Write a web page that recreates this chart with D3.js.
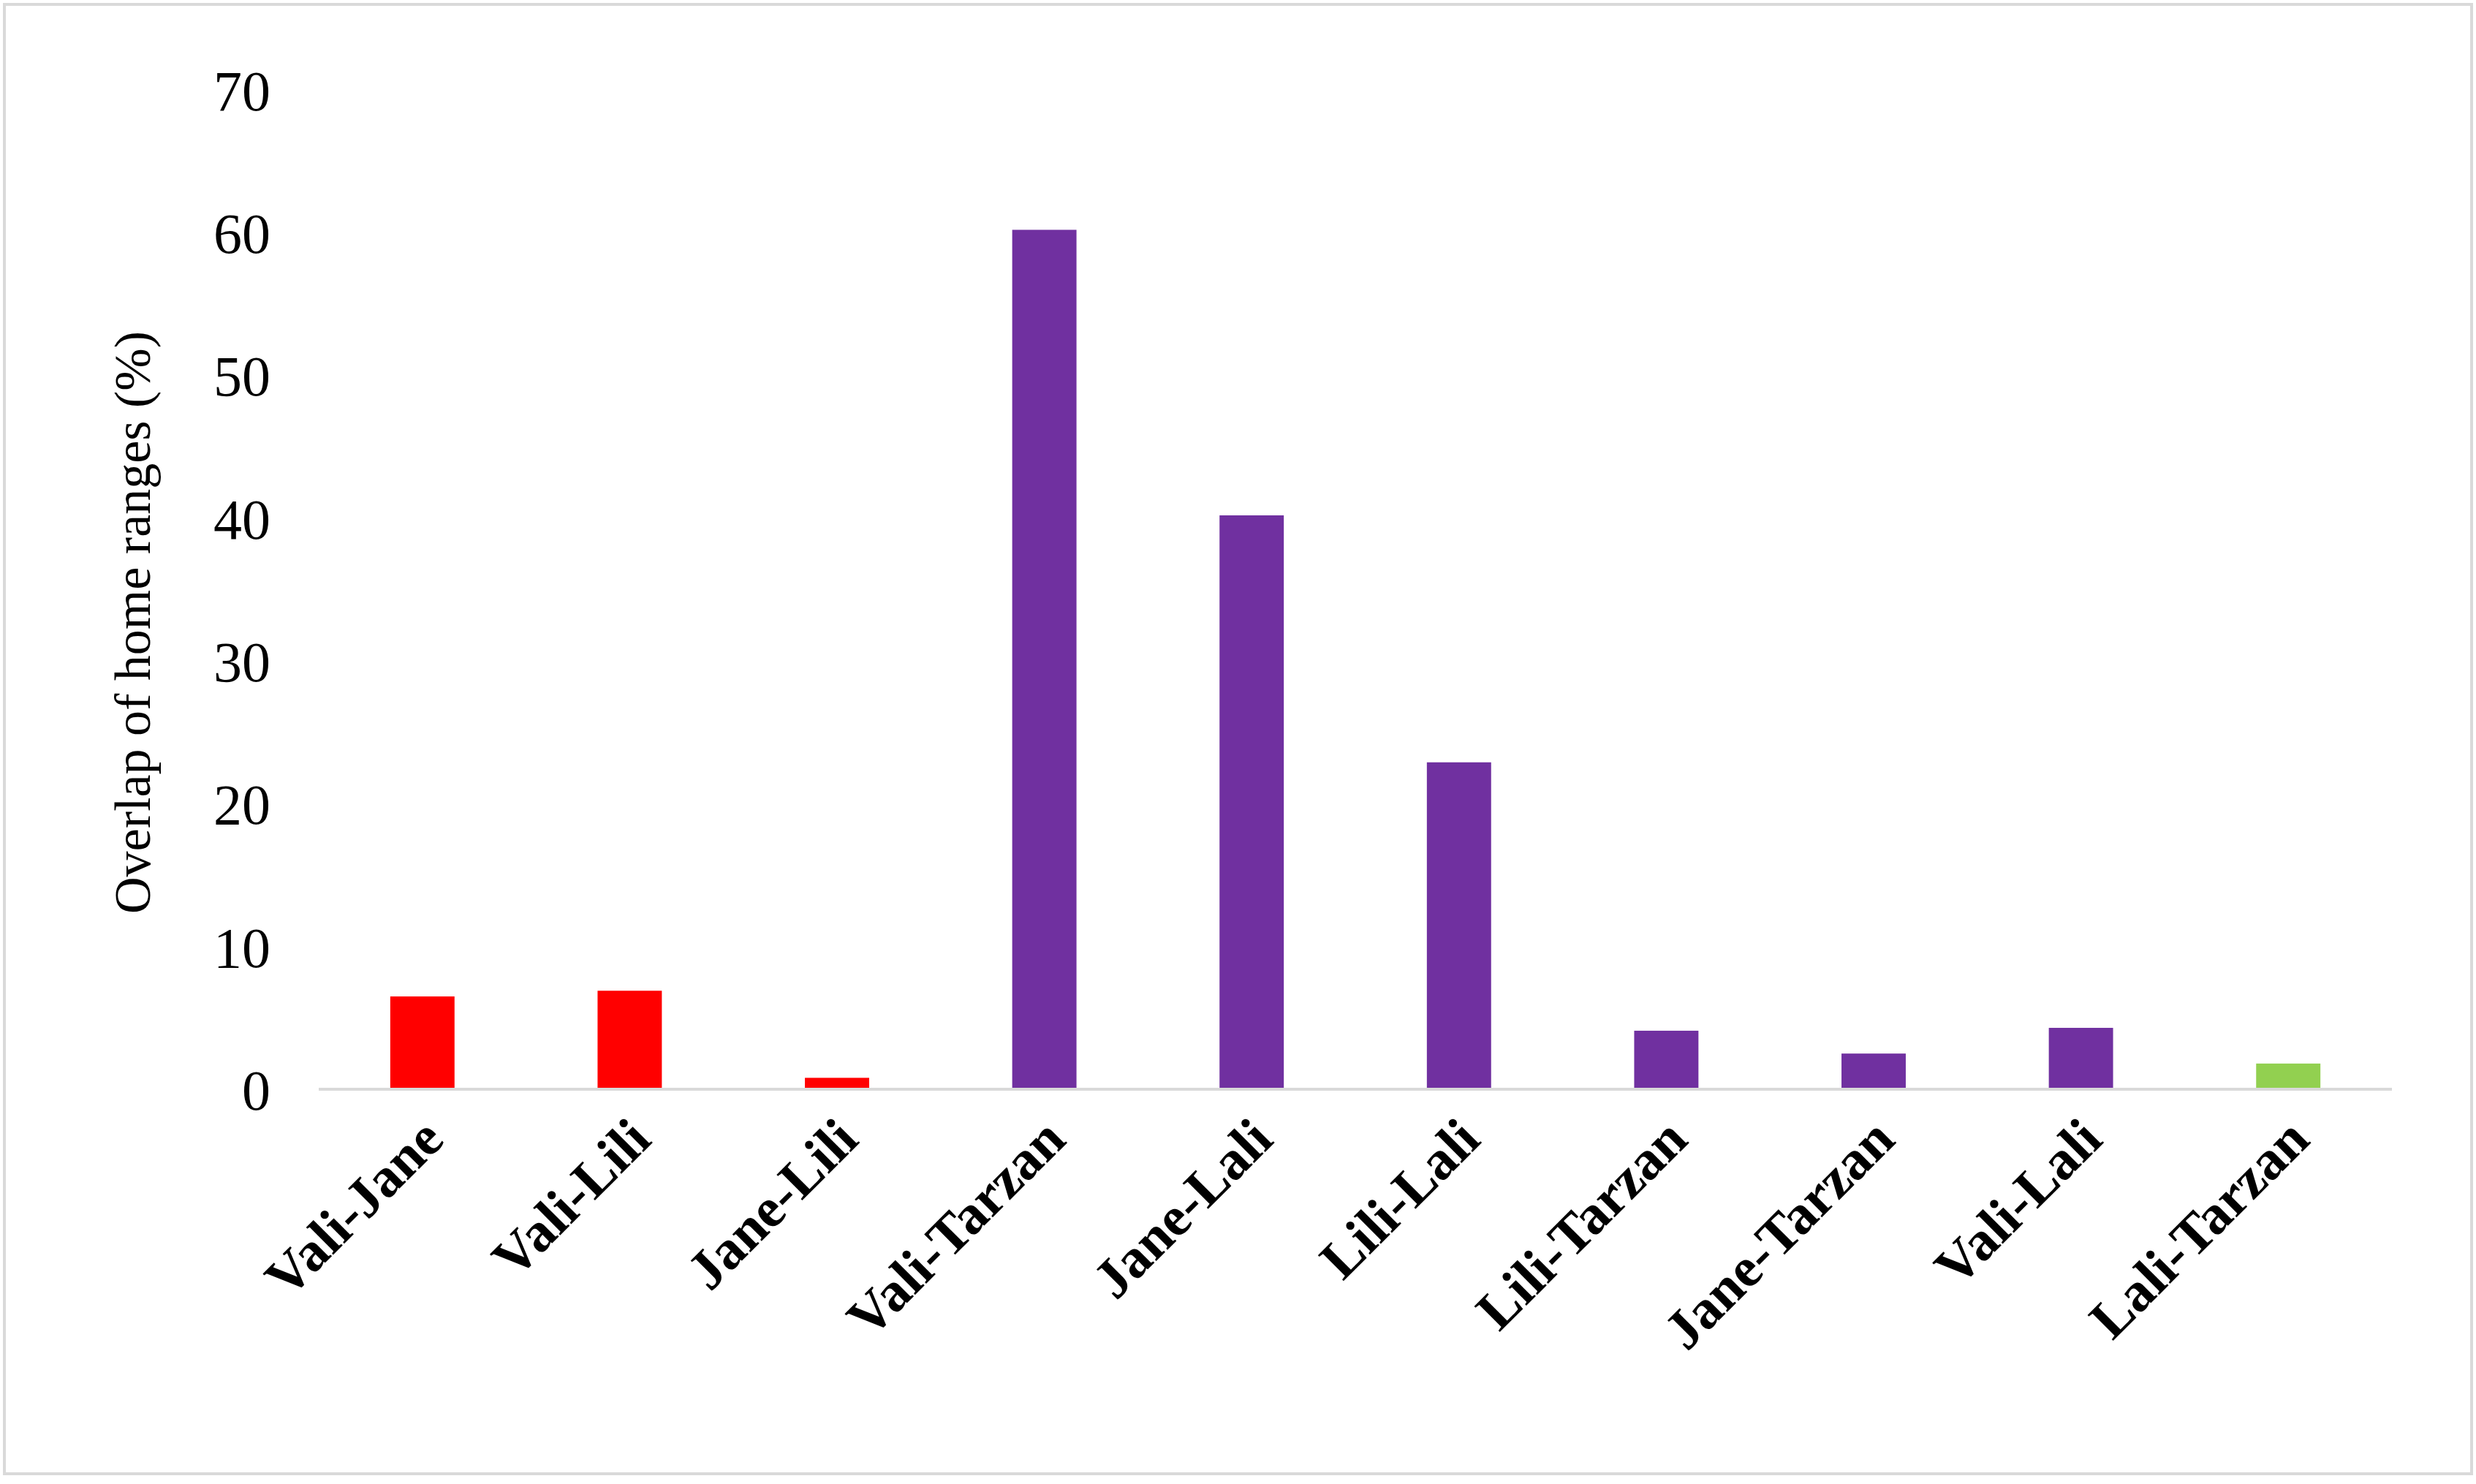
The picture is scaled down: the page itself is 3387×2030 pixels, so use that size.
<!DOCTYPE html>
<html>
<head>
<style>
  body { margin: 0; background: #fff; }
  svg text { font-family: "Liberation Serif", "Times New Roman", serif; fill: #000; }
  .axis path, .axis line { display: none; }
</style>
</head>
<body>
<svg id="chart" width="3387" height="2030"></svg>
<script src="https://d3js.org/d3.v7.min.js"></script>
<script>
var pairs = ["Vali-Jane", "Vali-Lili", "Jane-Lili", "Vali-Tarzan", "Jane-Lali",
             "Lili-Lali", "Lili-Tarzan", "Jane-Tarzan", "Vali-Lali", "Lali-Tarzan"];
var overlap = [6.5, 6.9, 0.8, 60.2, 40.2, 22.9, 4.1, 2.5, 4.3, 1.8];
var groups = ["red", "red", "red", "purple", "purple", "purple", "purple", "purple", "purple", "green"];
var yTicks = [0, 10, 20, 30, 40, 50, 60, 70];

var colors = { red: "#ff0000", purple: "#7030a0", green: "#92d050" };

var svg = d3.select("#chart");

svg.append("rect")
  .attr("x", 6).attr("y", 6).attr("width", 3375).attr("height", 2010)
  .attr("fill", "#fff").attr("stroke", "#d9d9d9").attr("stroke-width", 4);

var x = d3.scaleBand().domain(pairs).range([436, 3272]).paddingInner(0.69).paddingOuter(0.345);
var y = d3.scaleLinear().domain([0, 70]).range([1490, 123]);

svg.selectAll(".bar")
  .data(pairs)
  .enter().append("rect")
  .attr("class", "bar")
  .attr("x", function(d) { return x(d); })
  .attr("width", x.bandwidth())
  .attr("y", function(d, i) { return y(overlap[i]); })
  .attr("height", function(d, i) { return y(0) - y(overlap[i]); })
  .attr("fill", function(d, i) { return colors[groups[i]]; });

svg.append("line")
  .attr("x1", 436).attr("x2", 3272)
  .attr("y1", y(0)).attr("y2", y(0))
  .attr("stroke", "#d9d9d9").attr("stroke-width", 4);

var yAxis = svg.append("g").attr("class", "axis")
  .attr("transform", "translate(370,0)")
  .call(d3.axisLeft(y).tickValues(yTicks).tickSize(0).tickPadding(0));
yAxis.selectAll("text").style("font-size", "78px").attr("dy", "0.35em");

var xAxis = svg.append("g").attr("class", "axis")
  .attr("transform", "translate(0," + (y(0) + 40) + ")")
  .call(d3.axisBottom(x).tickSize(0).tickPadding(0));
xAxis.selectAll("text")
  .style("font-size", "76px").style("font-weight", "bold")
  .attr("text-anchor", "end")
  .attr("dy", "0.6em")
  .attr("transform", "rotate(-45)");

svg.append("text")
  .attr("transform", "translate(205," + ((y(0) + y(70)) / 2 + 45) + ") rotate(-90)")
  .attr("text-anchor", "middle")
  .style("font-size", "70px")
  .text("Overlap of home ranges (%)");
</script>
</body>
</html>
